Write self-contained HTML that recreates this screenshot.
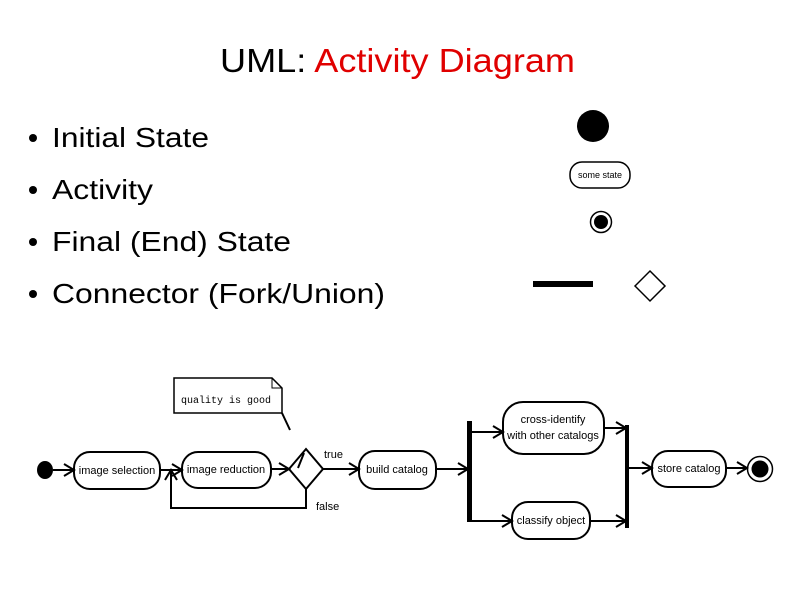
<!DOCTYPE html>
<html><head><style>
body{margin:0;background:#fff;}
svg{display:block;}
text{font-family:"Liberation Sans",sans-serif;}
</style></head><body>
<svg width="794" height="595" viewBox="0 0 794 595" xmlns="http://www.w3.org/2000/svg">
<text x="220" y="72" font-size="33" textLength="355" lengthAdjust="spacingAndGlyphs">UML: <tspan fill="#e00000">Activity Diagram</tspan></text>
<g font-size="28">
<circle cx="33" cy="138" r="4"/><text x="52" y="147" textLength="157" lengthAdjust="spacingAndGlyphs">Initial State</text>
<circle cx="33" cy="190" r="4"/><text x="52" y="199" textLength="101" lengthAdjust="spacingAndGlyphs">Activity</text>
<circle cx="33" cy="242" r="4"/><text x="52" y="251" textLength="239" lengthAdjust="spacingAndGlyphs">Final (End) State</text>
<circle cx="33" cy="294" r="4"/><text x="52" y="303" textLength="333" lengthAdjust="spacingAndGlyphs">Connector (Fork/Union)</text>
</g>
<!-- legend icons -->
<circle cx="593" cy="126" r="16"/>
<rect x="570" y="162" width="60" height="26" rx="12" fill="none" stroke="#000" stroke-width="1.5"/>
<text x="600" y="178" font-size="9" text-anchor="middle">some state</text>
<circle cx="601" cy="222" r="10.5" fill="none" stroke="#000" stroke-width="1.5"/>
<circle cx="601" cy="222" r="7"/>
<rect x="533" y="281" width="60" height="6"/>
<polygon points="650,271 665,286 650,301 635,286" fill="none" stroke="#000" stroke-width="1.5"/>

<g stroke="#000" stroke-width="2" fill="none">
<polygon points="174,378 272,378 282,388 282,413 174,413" stroke-width="1.5"/>
<polyline points="272,378 272,388 282,388" stroke-width="1"/>
<line x1="282" y1="413" x2="290" y2="430"/>
<line x1="304" y1="453" x2="298" y2="468"/>
<rect x="74" y="452" width="86" height="37" rx="16"/>
<rect x="182" y="452" width="89" height="36" rx="16"/>
<polygon points="306,449 323,469 306,489 289,469"/>
<rect x="359" y="451" width="77" height="38" rx="16"/>
<rect x="503" y="402" width="101" height="52" rx="20"/>
<rect x="512" y="502" width="78" height="37" rx="16"/>
<rect x="652" y="451" width="74" height="36" rx="16"/>
<line x1="53" y1="470" x2="74" y2="470"/>
<line x1="160" y1="470" x2="182" y2="470"/>
<line x1="271" y1="469" x2="289" y2="469"/>
<line x1="323" y1="469" x2="359" y2="469"/>
<line x1="436" y1="469" x2="468" y2="469"/>
<polyline points="306,489 306,508 171,508 171,472"/>
<polyline points="470,432 503,432"/>
<polyline points="470,521 512,521"/>
<line x1="604" y1="428" x2="626" y2="428"/>
<line x1="590" y1="521" x2="626" y2="521"/>
<line x1="628" y1="468" x2="652" y2="468"/>
<line x1="726" y1="468" x2="747" y2="468"/>
<polyline points="64,464 74,470 64,476"/>
<polyline points="172,464 182,470 172,476"/>
<polyline points="279,463 289,469 279,475"/>
<polyline points="349,463 359,469 349,475"/>
<polyline points="458,463 468,469 458,475"/>
<polyline points="493,426 503,432 493,438"/>
<polyline points="502,515 512,521 502,527"/>
<polyline points="616,422 626,428 616,434"/>
<polyline points="616,515 626,521 616,527"/>
<polyline points="642,462 652,468 642,474"/>
<polyline points="737,462 747,468 737,474"/>
<polyline points="165,480 171,470 177,480"/>
<circle cx="760" cy="469" r="12.5" stroke-width="1.5"/>
</g>
<ellipse cx="45" cy="470" rx="8" ry="9"/>
<rect x="467" y="421" width="5" height="101"/>
<rect x="625" y="425" width="4" height="103"/>
<circle cx="760" cy="469" r="8.5"/>
<text x="181" y="403" font-size="10" textLength="90" lengthAdjust="spacingAndGlyphs" style="font-family:'Liberation Mono',monospace">quality is good</text>
<g font-size="11">
<text x="117" y="474" text-anchor="middle">image selection</text>
<text x="226" y="473" text-anchor="middle">image reduction</text>
<text x="324" y="458">true</text>
<text x="316" y="510">false</text>
<text x="397" y="473" text-anchor="middle">build catalog</text>
<text x="553" y="423" text-anchor="middle">cross-identify</text>
<text x="553" y="439" text-anchor="middle">with other catalogs</text>
<text x="551" y="524" text-anchor="middle">classify object</text>
<text x="689" y="472" text-anchor="middle">store catalog</text>
</g>
</svg>
</body></html>
